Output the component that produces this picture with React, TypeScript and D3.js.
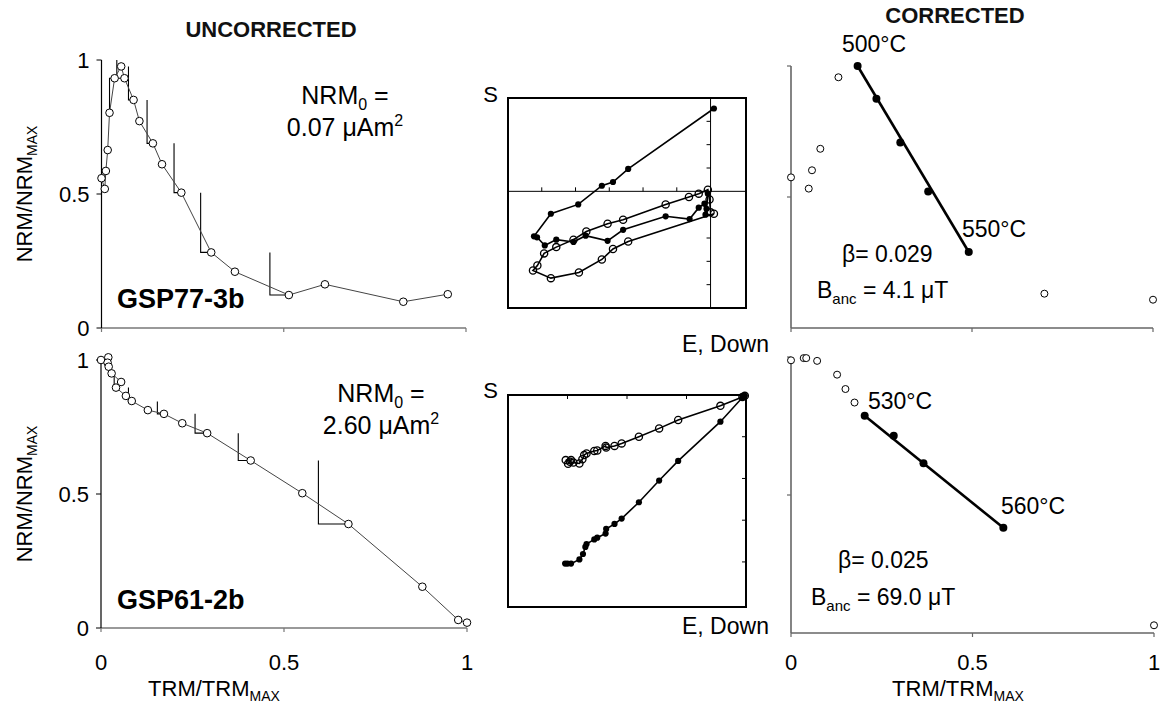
import React from 'react';
import * as d3 from 'd3';

const FONT = "'Liberation Sans', Arial, Helvetica, sans-serif";

// ---------- Arai plots (uncorrected) ----------
const araiTopX = [0.000, 0.009, 0.012, 0.017, 0.022, 0.036, 0.054, 0.063, 0.088, 0.104, 0.141, 0.166, 0.219, 0.301, 0.366, 0.514, 0.613, 0.828, 0.950];
const araiTopY = [0.559, 0.519, 0.586, 0.664, 0.803, 0.932, 0.976, 0.932, 0.851, 0.772, 0.689, 0.611, 0.505, 0.282, 0.210, 0.123, 0.163, 0.098, 0.126];
const araiTopCheckX = [0.022, 0.042, 0.074, 0.125, 0.199, 0.272, 0.462];
const araiTopCheckFromY = [0.803, 1.0, 0.976, 0.851, 0.689, 0.505, 0.282];
const araiTopCheckTo = [5, 7, 8, 10, 12, 13, 15];

const araiBotX = [0.000, 0.020, 0.018, 0.021, 0.029, 0.055, 0.041, 0.068, 0.084, 0.128, 0.172, 0.222, 0.290, 0.409, 0.550, 0.676, 0.878, 0.976, 1.000];
const araiBotY = [1.000, 1.010, 0.990, 0.975, 0.950, 0.918, 0.897, 0.866, 0.847, 0.813, 0.799, 0.764, 0.727, 0.625, 0.503, 0.388, 0.154, 0.030, 0.020];
const araiBotCheckX = [0.036, 0.075, 0.154, 0.257, 0.375, 0.594];
const araiBotCheckFromY = [0.950, 0.897, 0.845, 0.799, 0.727, 0.625];
const araiBotCheckTo = [6, 8, 10, 12, 13, 15];

const unitTicks = [0, 0.5, 1];
const unitTickLabels = ['0', '0.5', '1'];

// ---------- Zijderveld plots (tick units) ----------
const zijTopHorE = [0.10, -2.44, -2.89, -3.22, -3.92, -4.73, -5.23, -5.14, -4.91, -4.57, -4.06, -3.70, -3.05, -2.59, -1.33, -0.62, -0.35, -0.18, -0.15, -0.12, -0.08];
const zijTopHorN = [3.55, 0.96, 0.40, 0.24, -0.56, -0.96, -1.93, -1.97, -2.32, -2.07, -2.17, -1.90, -2.12, -1.65, -1.07, -1.19, -0.70, -0.53, -1.00, -0.75, -0.10];
const zijTopVerE = [0.10, -2.44, -2.89, -3.22, -3.90, -4.73, -5.26, -5.13, -4.93, -4.57, -4.06, -3.68, -3.05, -2.59, -1.33, -0.64, -0.35, -0.08, -0.03, 0.00];
const zijTopVerUp = [-0.96, -2.15, -2.47, -2.92, -3.48, -3.72, -3.39, -3.18, -2.66, -2.39, -2.07, -1.72, -1.39, -1.22, -0.56, -0.24, -0.10, 0.07, -0.35, -0.90];
const zijTopXTicks = [-5, -4, -3, -2, -1];
const zijTopYTicks = [3, 2, 1, -1, -2, -3, -4];

const zijBotHorE = [-0.02, -0.06, -0.43, -1.14, -1.46, -1.80, -2.09, -2.21, -2.35, -2.36, -2.50, -2.55, -2.68, -2.70, -2.74, -2.80, -2.94, -3.00, -3.04];
const zijBotHorN = [-0.02, -0.06, -0.64, -1.58, -2.05, -2.57, -2.96, -3.09, -3.21, -3.32, -3.42, -3.46, -3.57, -3.64, -3.81, -3.94, -4.04, -4.04, -4.04];
const zijBotVerE = [-0.02, -0.06, -0.43, -1.14, -1.46, -1.80, -2.09, -2.21, -2.35, -2.36, -2.50, -2.55, -2.68, -2.72, -2.75, -2.80, -2.90, -2.96, -2.99, -2.94, -3.03];
const zijBotVerUp = [-0.02, -0.05, -0.26, -0.60, -0.80, -1.00, -1.16, -1.22, -1.26, -1.22, -1.33, -1.34, -1.40, -1.44, -1.54, -1.64, -1.62, -1.60, -1.65, -1.56, -1.56];
const zijBotXTicks = [-3, -2, -1];
const zijBotYTicks = [-1, -2, -3, -4];

// ---------- Corrected Arai plots ----------
const corrTopOpenX = [0.000, 0.049, 0.058, 0.081, 0.131, 0.700, 1.000];
const corrTopOpenY = [0.575, 0.532, 0.602, 0.684, 0.957, 0.131, 0.108];
const corrTopFitX = [0.184, 0.236, 0.302, 0.379, 0.491];
const corrTopFitY = [1.000, 0.875, 0.708, 0.521, 0.290];

const corrBotOpenX = [0.000, 0.035, 0.042, 0.072, 0.127, 0.150, 0.175, 1.000];
const corrBotOpenY = [0.988, 0.996, 0.996, 0.986, 0.936, 0.884, 0.835, 0.028];
const corrBotFitX = [0.203, 0.283, 0.365, 0.585];
const corrBotFitY = [0.787, 0.715, 0.615, 0.381];

type Box = { x0: number; x1: number; y0: number; y1: number };

function Arai(props: {
  box: Box; xs: number[]; ys: number[]; cx: number[]; cFrom: number[]; cTo: number[]; xLabels: boolean;
}) {
  const { box, xs, ys, cx, cFrom, cTo, xLabels } = props;
  const x = d3.scaleLinear().domain([0, 1]).range([box.x0, box.x1]);
  const y = d3.scaleLinear().domain([0, 1]).range([box.y0, box.y1]);
  const pts: [number, number][] = xs.map((v, i) => [v, ys[i]]);
  const line = d3.line<[number, number]>().x(d => x(d[0])).y(d => y(d[1]));
  return (
    <g>
      <line x1={x(0)} x2={x(1)} y1={y(0)} y2={y(0)} stroke="#777" strokeWidth={1.6} />
      <line x1={x(0)} x2={x(0)} y1={y(0)} y2={y(1)} stroke="#000" strokeWidth={1.2} />
      {unitTicks.map((t, i) => (
        <g key={'y' + t}>
          <line x1={x(0) - 5} x2={x(0)} y1={y(t)} y2={y(t)} stroke="#000" strokeWidth={1} />
          <text x={x(0) - 12} y={y(t)} dy="0.36em" textAnchor="end" fontSize={22}>{unitTickLabels[i]}</text>
        </g>
      ))}
      {unitTicks.map((t, i) => (
        <g key={'x' + t}>
          <line x1={x(t)} x2={x(t)} y1={y(0)} y2={y(0) + 4} stroke="#777" strokeWidth={1.2} />
          {xLabels && <text x={x(t)} y={670} textAnchor="middle" fontSize={22}>{unitTickLabels[i]}</text>}
        </g>
      ))}
      {cx.map((c, i) => {
        const p = pts[cTo[i]];
        const d = d3.line()([[x(c), y(cFrom[i])], [x(c), y(p[1])], [x(p[0]), y(p[1])]]) || '';
        return <path key={'c' + i} d={d} fill="none" stroke="#000" strokeWidth={1.1} />;
      })}
      <path d={line(pts) || ''} fill="none" stroke="#444" strokeWidth={1} />
      {pts.map((p, i) => (
        <circle key={i} cx={x(p[0])} cy={y(p[1])} r={3.8} fill="#fff" stroke="#000" strokeWidth={1} />
      ))}
    </g>
  );
}

function Zij(props: {
  box: Box; xDom: [number, number]; yDom: [number, number];
  hE: number[]; hN: number[]; vE: number[]; vU: number[];
  xTicks: number[]; yTicks: number[]; xTickDir: number;
}) {
  const { box, xDom, yDom, hE, hN, vE, vU, xTicks, yTicks, xTickDir } = props;
  const x = d3.scaleLinear().domain(xDom).range([box.x0, box.x1]);
  const y = d3.scaleLinear().domain(yDom).range([box.y0, box.y1]);
  const hor: [number, number][] = hE.map((v, i) => [v, hN[i]]);
  const ver: [number, number][] = vE.map((v, i) => [v, vU[i]]);
  const line = d3.line<[number, number]>().x(d => x(d[0])).y(d => y(d[1]));
  return (
    <g>
      <line x1={box.x0} x2={box.x1} y1={y(0)} y2={y(0)} stroke="#000" strokeWidth={1} />
      <line x1={x(0)} x2={x(0)} y1={box.y1} y2={box.y0} stroke="#000" strokeWidth={1} />
      {xTicks.map(t => (
        <line key={'xt' + t} x1={x(t)} x2={x(t)} y1={y(0)} y2={y(0) + 4 * xTickDir} stroke="#000" strokeWidth={1} />
      ))}
      {yTicks.map(t => (
        <line key={'yt' + t} x1={x(0)} x2={x(0) - 4} y1={y(t)} y2={y(t)} stroke="#000" strokeWidth={1} />
      ))}
      <path d={line(ver) || ''} fill="none" stroke="#000" strokeWidth={1.6} />
      <path d={line(hor) || ''} fill="none" stroke="#000" strokeWidth={1.6} />
      {ver.map((p, i) => (
        <circle key={'v' + i} cx={x(p[0])} cy={y(p[1])} r={3.6} fill="none" stroke="#000" strokeWidth={1.3} />
      ))}
      {hor.map((p, i) => (
        <circle key={'h' + i} cx={x(p[0])} cy={y(p[1])} r={3.1} fill="#000" />
      ))}
      <rect x={box.x0} y={box.y1} width={box.x1 - box.x0} height={box.y0 - box.y1} fill="none" stroke="#000" strokeWidth={2} />
    </g>
  );
}

function Corr(props: {
  box: Box; ox: number[]; oy: number[]; fx: number[]; fy: number[]; xLabels: boolean;
}) {
  const { box, ox, oy, fx, fy, xLabels } = props;
  const x = d3.scaleLinear().domain([0, 1]).range([box.x0, box.x1]);
  const y = d3.scaleLinear().domain([0, 1]).range([box.y0, box.y1]);
  const fit: [number, number][] = fx.map((v, i) => [v, fy[i]]);
  const line = d3.line<[number, number]>().x(d => x(d[0])).y(d => y(d[1]));
  return (
    <g>
      <line x1={x(0)} x2={x(1)} y1={y(0)} y2={y(0)} stroke="#666" strokeWidth={1.6} />
      <line x1={x(0)} x2={x(0)} y1={y(0)} y2={y(1)} stroke="#666" strokeWidth={1.6} />
      {[0.5, 1].map(t => (
        <line key={'y' + t} x1={x(0) - 4} x2={x(0)} y1={y(t)} y2={y(t)} stroke="#666" strokeWidth={1.2} />
      ))}
      {unitTicks.map((t, i) => (
        <g key={'x' + t}>
          <line x1={x(t)} x2={x(t)} y1={y(0)} y2={y(0) + 4} stroke="#666" strokeWidth={1.2} />
          {xLabels && <text x={x(t)} y={670} textAnchor="middle" fontSize={22}>{unitTickLabels[i]}</text>}
        </g>
      ))}
      <path d={line([fit[0], fit[fit.length - 1]]) || ''} fill="none" stroke="#000" strokeWidth={2.6} />
      {fit.map((p, i) => (
        <circle key={'f' + i} cx={x(p[0])} cy={y(p[1])} r={4} fill="#000" />
      ))}
      {ox.map((v, i) => (
        <circle key={'o' + i} cx={x(v)} cy={y(oy[i])} r={3.5} fill="#fff" stroke="#000" strokeWidth={1} />
      ))}
    </g>
  );
}

function YLabel({ cx, cy }: { cx: number; cy: number }) {
  return (
    <text transform={`translate(${cx},${cy}) rotate(-90)`} textAnchor="middle" fontSize={22}>
      <tspan>NRM/NRM</tspan><tspan fontSize={14} dy={5}>MAX</tspan>
    </text>
  );
}

function XLabel({ cx, y }: { cx: number; y: number }) {
  return (
    <text x={cx} y={y} textAnchor="middle" fontSize={22}>
      <tspan>TRM/TRM</tspan><tspan fontSize={14} dy={5}>MAX</tspan>
    </text>
  );
}

function Nrm({ cx, y, value }: { cx: number; y: number; value: string }) {
  return (
    <g fontSize={25}>
      <text x={cx} y={y} textAnchor="middle">
        <tspan>NRM</tspan><tspan fontSize={16} dy={6}>0</tspan><tspan dy={-6}> =</tspan>
      </text>
      <text x={cx} y={y + 32} textAnchor="middle">
        <tspan>{value} μAm</tspan><tspan fontSize={16} dy={-10}>2</tspan>
      </text>
    </g>
  );
}

function Banc({ x, y, value }: { x: number; y: number; value: string }) {
  return (
    <text x={x} y={y} fontSize={23}>
      <tspan>B</tspan><tspan fontSize={15} dy={6}>anc</tspan><tspan dy={-6}>{` = ${value} μT`}</tspan>
    </text>
  );
}

export default function App() {
  const araiTopBox = { x0: 101.5, x1: 466, y0: 328, y1: 60 };
  const araiBotBox = { x0: 101, x1: 467, y0: 628, y1: 360 };
  const zijTopBox = { x0: 508, x1: 746, y0: 308, y1: 98 };
  const zijBotBox = { x0: 508, x1: 746, y0: 607, y1: 395 };
  const corrTopBox = { x0: 791, x1: 1153, y0: 328, y1: 66 };
  const corrBotBox = { x0: 791, x1: 1154, y0: 633, y1: 357 };
  return (
    <svg width={1162} height={709} style={{ position: 'absolute', left: 0, top: 0, background: '#fff' }}
      fontFamily={FONT} fill="#000">
      <rect x={0} y={0} width={1162} height={709} fill="#fff" />
      <text x={271} y={37} textAnchor="middle" fontSize={22} fontWeight="bold" fill="#111">UNCORRECTED</text>
      <text x={955} y={23} textAnchor="middle" fontSize={22} fontWeight="bold" fill="#111">CORRECTED</text>

      <Arai box={araiTopBox} xs={araiTopX} ys={araiTopY} cx={araiTopCheckX} cFrom={araiTopCheckFromY} cTo={araiTopCheckTo} xLabels={false} />
      <Arai box={araiBotBox} xs={araiBotX} ys={araiBotY} cx={araiBotCheckX} cFrom={araiBotCheckFromY} cTo={araiBotCheckTo} xLabels={true} />
      <YLabel cx={32} cy={194} />
      <YLabel cx={32} cy={494} />
      <XLabel cx={214} y={696} />
      <Nrm cx={345} y={104} value="0.07" />
      <Nrm cx={381} y={402} value="2.60" />
      <text x={117} y={308} fontSize={27} fontWeight="bold">GSP77-3b</text>
      <text x={117} y={609} fontSize={27} fontWeight="bold">GSP61-2b</text>

      <Zij box={zijTopBox} xDom={[-6, 1.05]} yDom={[-5, 4]} hE={zijTopHorE} hN={zijTopHorN} vE={zijTopVerE} vU={zijTopVerUp}
        xTicks={zijTopXTicks} yTicks={zijTopYTicks} xTickDir={-1} />
      <Zij box={zijBotBox} xDom={[-4, 0]} yDom={[-5.08, 0]} hE={zijBotHorE} hN={zijBotHorN} vE={zijBotVerE} vU={zijBotVerUp}
        xTicks={zijBotXTicks} yTicks={zijBotYTicks} xTickDir={1} />
      <text x={498} y={102} textAnchor="end" fontSize={22}>S</text>
      <text x={498} y={398} textAnchor="end" fontSize={22}>S</text>
      <text x={682} y={352} fontSize={23}>E, Down</text>
      <text x={682} y={634} fontSize={23}>E, Down</text>

      <Corr box={corrTopBox} ox={corrTopOpenX} oy={corrTopOpenY} fx={corrTopFitX} fy={corrTopFitY} xLabels={false} />
      <Corr box={corrBotBox} ox={corrBotOpenX} oy={corrBotOpenY} fx={corrBotFitX} fy={corrBotFitY} xLabels={true} />
      <XLabel cx={958} y={696} />
      <text x={842} y={52} fontSize={23}>500°C</text>
      <text x={962} y={237} fontSize={23}>550°C</text>
      <text x={842} y={262} fontSize={23}>β= 0.029</text>
      <Banc x={817} y={298} value="4.1" />
      <text x={868} y={409} fontSize={23}>530°C</text>
      <text x={1001} y={514} fontSize={23}>560°C</text>
      <text x={838} y={568} fontSize={23}>β= 0.025</text>
      <Banc x={811} y={605} value="69.0" />
    </svg>
  );
}
